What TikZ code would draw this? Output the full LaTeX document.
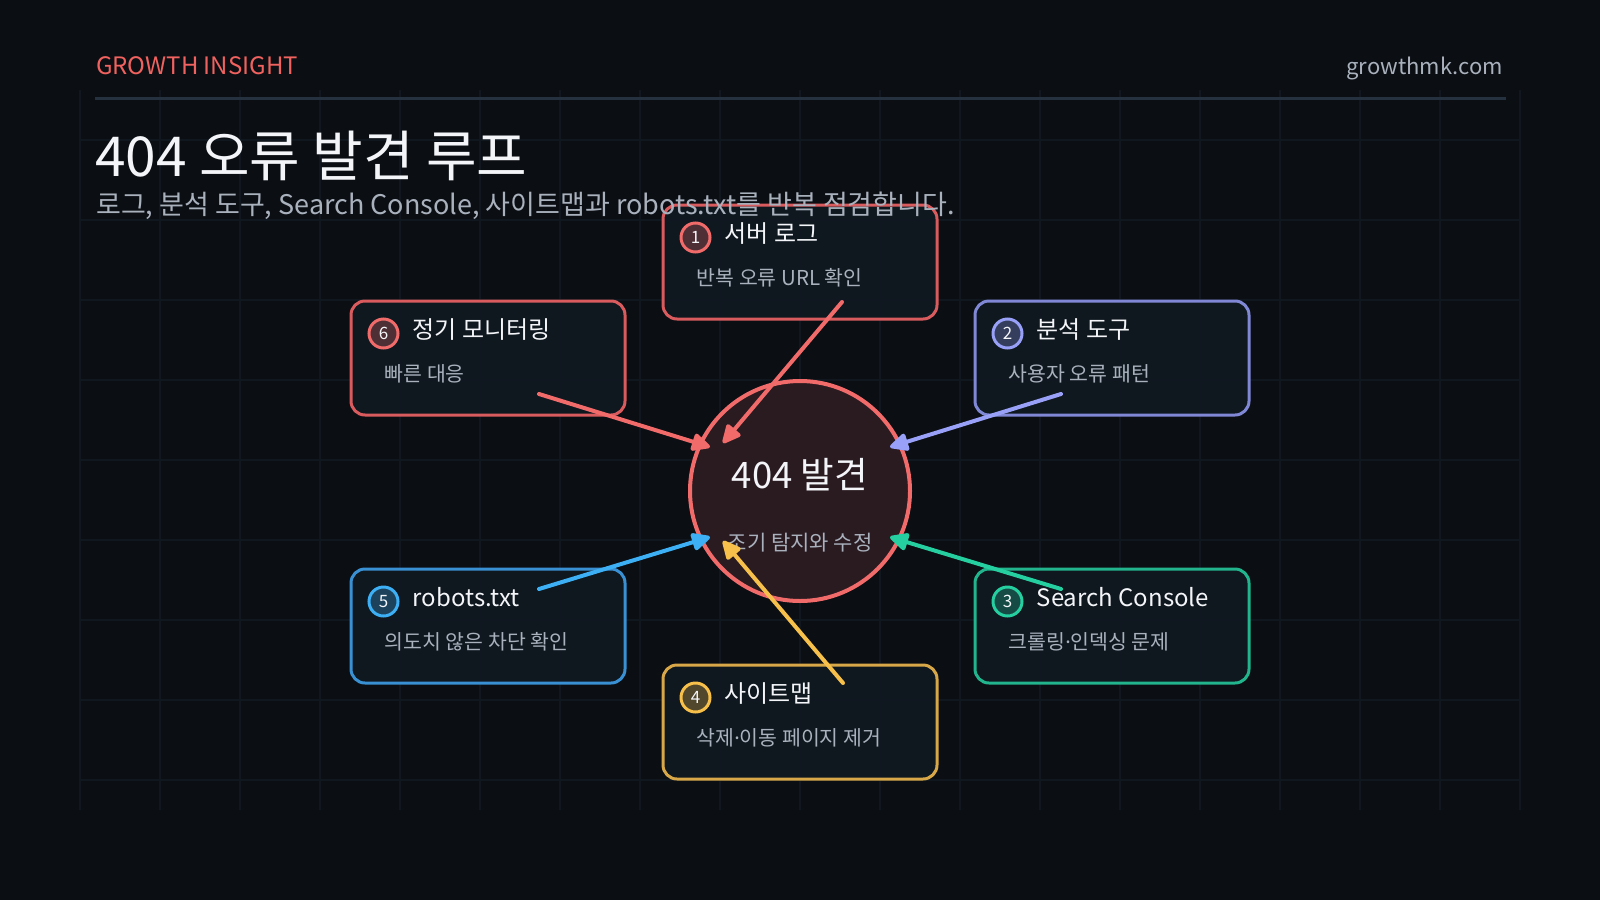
\documentclass[tikz,border=0pt]{standalone}
\usepackage{fontspec}
\setmainfont{Noto Sans CJK KR}
\newfontfamily\latinf{Noto Sans}
\usetikzlibrary{arrows.meta,calc}
\definecolor{bg}{HTML}{0B0E13}
\definecolor{gridc}{HTML}{10171F}
\definecolor{rulec}{HTML}{263140}
\definecolor{boxfill}{HTML}{101821}
\definecolor{titlec}{HTML}{F3F5F8}
\definecolor{subc}{HTML}{A9B1BD}
\definecolor{headc}{HTML}{F0625F}
\definecolor{coralA}{HTML}{F26B6B}
\definecolor{coralB}{HTML}{D95B5E}
\definecolor{periA}{HTML}{98A0F8}
\definecolor{periB}{HTML}{8088D6}
\definecolor{greenA}{HTML}{26CFA0}
\definecolor{greenB}{HTML}{22B48C}
\definecolor{amberA}{HTML}{F7C04A}
\definecolor{amberB}{HTML}{D8A848}
\definecolor{blueA}{HTML}{3DB0F5}
\definecolor{blueB}{HTML}{3990D2}
\definecolor{hubfill}{HTML}{2A1B21}
\newcommand\pxsize[1]{\fontsize{#1}{#1}\selectfont}
\newcommand\mdot{{\latinf ·}}
\begin{document}
\begin{tikzpicture}[x=1pt,y=-1pt,
  gridline/.style={draw=gridc, line width=1.5pt},
  box/.style={rectangle, line width=3pt, rounded corners=14pt, minimum width=274pt, minimum height=114pt, fill=boxfill, fill opacity=0.92, inner sep=0pt},
  badge/.style={circle, line width=3pt, minimum size=29pt, inner sep=0pt, font=\pxsize{17}, text=titlec},
  ttl/.style={anchor=base west, inner sep=0pt, text=titlec, font=\pxsize{24}},
  sbt/.style={anchor=base west, inner sep=0pt, text=subc, font=\pxsize{20.5}},
  arr/.style={line width=4pt, line cap=round, -{Triangle[length=21pt,width=19pt,round]}}
]
\useasboundingbox (0,0) rectangle (1600,900);
\fill[bg] (0,0) rectangle (1600,900);
% grid
\foreach \x in {80,160,...,1520} \draw[gridline] (\x,90) -- (\x,810);
\foreach \y in {140,220,...,780} \draw[gridline] (80,\y) -- (1520,\y);
% header
\node[anchor=base west, inner sep=0pt, text=headc, font=\pxsize{24}] (brand) at (96,74) {GROWTH INSIGHT};
\node[anchor=base east, inner sep=0pt, text=subc, font=\pxsize{22}] (site) at (1503,74) {growthmk.com};
\draw[draw=rulec, line width=3pt] (95,98) -- (1506,98);
\node[anchor=base west, inner sep=0pt, text=titlec, font=\pxsize{55}] (title) at (95,176) {404 오류 발견 루프};
% hub
\node[circle, minimum size=220pt, line width=4pt, draw=coralA, fill=hubfill, inner sep=0pt] (hub) at (800,491) {};
\node[anchor=base, inner sep=0pt, text=titlec, font=\pxsize{36.5}] (hubt) at (800,488) {404 발견};
\node[anchor=base, inner sep=0pt, text=subc, font=\pxsize{21}] (hubs) at (800,550) {조기 탐지와 수정};
% boxes
\node[box, draw=coralB] (n1) at (800,262) {};
\node[box, draw=periB] (n2) at (1112,358) {};
\node[box, draw=greenB] (n3) at (1112,626) {};
\node[box, draw=amberB] (n4) at (800,722) {};
\node[box, draw=blueB] (n5) at (488,626) {};
\node[box, draw=coralB] (n6) at (488,358) {};
% box contents
\node[badge, draw=coralA, fill=coralA!28!boxfill] (b1) at ($(n1.north west)+(34,34)$) {1};
\node[ttl] (t1) at ($(n1.north west)+(63,39)$) {서버 로그};
\node[sbt] (d1) at ($(n1.north west)+(35,82)$) {반복 오류 URL 확인};
\node[badge, draw=periA, fill=periA!28!boxfill] (b2) at ($(n2.north west)+(34,34)$) {2};
\node[ttl] (t2) at ($(n2.north west)+(63,39)$) {분석 도구};
\node[sbt] (d2) at ($(n2.north west)+(35,82)$) {사용자 오류 패턴};
\node[badge, draw=greenA, fill=greenA!28!boxfill] (b3) at ($(n3.north west)+(34,34)$) {3};
\node[ttl] (t3) at ($(n3.north west)+(63,39)$) {Search Console};
\node[sbt] (d3) at ($(n3.north west)+(35,82)$) {크롤링\mdot 인덱싱 문제};
\node[badge, draw=amberA, fill=amberA!28!boxfill] (b4) at ($(n4.north west)+(34,34)$) {4};
\node[ttl] (t4) at ($(n4.north west)+(63,39)$) {사이트맵};
\node[sbt] (d4) at ($(n4.north west)+(35,82)$) {삭제\mdot 이동 페이지 제거};
\node[badge, draw=blueA, fill=blueA!28!boxfill] (b5) at ($(n5.north west)+(34,34)$) {5};
\node[ttl] (t5) at ($(n5.north west)+(63,39)$) {robots.txt};
\node[sbt] (d5) at ($(n5.north west)+(35,82)$) {의도치 않은 차단 확인};
\node[badge, draw=coralA, fill=coralA!28!boxfill] (b6) at ($(n6.north west)+(34,34)$) {6};
\node[ttl] (t6) at ($(n6.north west)+(63,39)$) {정기 모니터링};
\node[sbt] (d6) at ($(n6.north west)+(35,82)$) {빠른 대응};
% connectors
\coordinate (s1) at ($(n1.center)+(42,40)$);
\coordinate (s2) at ($(n2.center)+(-51,36)$);
\coordinate (s3) at ($(n3.center)+(-51,-37)$);
\coordinate (s4) at ($(n4.center)+(43,-39)$);
\coordinate (s5) at ($(n5.center)+(51,-37)$);
\coordinate (s6) at ($(n6.center)+(51,36)$);
\coordinate (e1) at ($(hub.center)+(-77,-48)$);
\coordinate (e2) at ($(hub.center)+(90,-44)$);
\coordinate (e3) at ($(hub.center)+(90,46)$);
\coordinate (e4) at ($(hub.center)+(-77,50)$);
\coordinate (e5) at ($(hub.center)+(-90,46)$);
\coordinate (e6) at ($(hub.center)+(-90,-44)$);
\draw[arr, coralA] (s1) -- (e1);
\draw[arr, periA] (s2) -- (e2);
\draw[arr, greenA] (s3) -- (e3);
\draw[arr, amberA] (s4) -- (e4);
\draw[arr, blueA] (s5) -- (e5);
\draw[arr, coralA] (s6) -- (e6);
% subtitle
\node[anchor=base west, inner sep=0pt, text=subc, font=\pxsize{27}] (subtitle) at (96,214) {로그, 분석 도구, Search Console, 사이트맵과 robots.txt를 반복 점검합니다.};
\end{tikzpicture}
\end{document}
